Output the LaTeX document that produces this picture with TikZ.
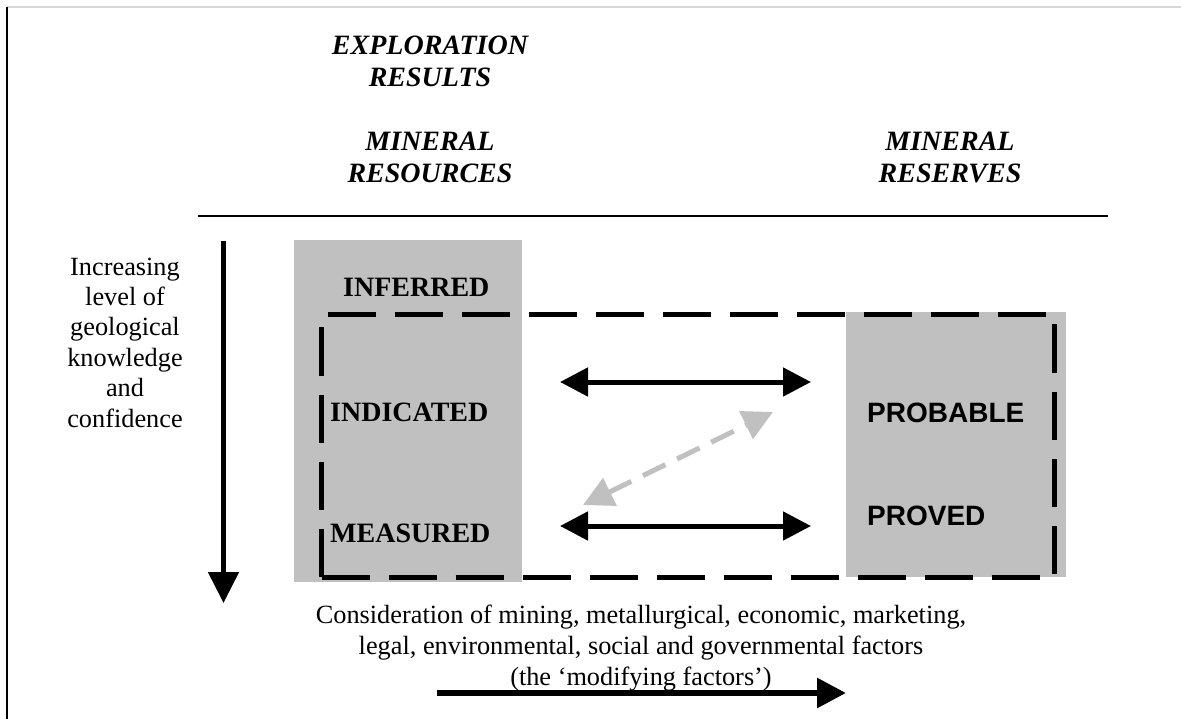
\documentclass[tikz,border=0pt]{standalone}
\usepackage{fontspec}
\setmainfont{Liberation Serif}
\newfontfamily\arialfont{Liberation Sans}
\usetikzlibrary{arrows.meta}
\definecolor{boxgray}{HTML}{C0C0C0}
\definecolor{rulegray}{HTML}{D6D6D6}

\begin{document}
\begin{tikzpicture}[x=1pt,y=-1pt,
  heading/.style={font=\fontsize{28}{32.5}\selectfont\bfseries\itshape, align=center, inner sep=0pt, anchor=base},
  bodytext/.style={font=\fontsize{26.3}{30.5}\selectfont, align=center, inner sep=0pt, anchor=base},
  reslabel/.style={font=\fontsize{28}{30}\selectfont\bfseries, inner sep=0pt, anchor=base west},
  reslabelsans/.style={font=\fontsize{28}{30}\selectfont\arialfont\bfseries, inner sep=0pt, anchor=base west},
  graybox/.style={fill=boxgray, draw=none, inner sep=0pt, anchor=north west},
  frame/.style={draw=black, line width=5pt, dash pattern=on 48pt off 19pt, inner sep=0pt, anchor=north west},
  twoway/.style={line width=5pt, {Triangle[length=28pt,width=28pt]}-{Triangle[length=28pt,width=28pt]}},
  crossway/.style={draw=boxgray, line width=5pt, dash pattern=on 25pt off 13pt,
    {Triangle[length=30pt,width=30pt]}-{Triangle[length=30pt,width=30pt]}},
  oneway/.style={line width=5pt, -{Triangle[length=31pt,width=30pt]}}
]
\useasboundingbox (0,0) rectangle (1181,719);

% page edges
\coordinate (edgeTL) at (6.5,7);
\coordinate (edgeTR) at (1181,7);
\coordinate (edgeBL) at (6.5,719);
\draw[rulegray, line width=1.5pt] (edgeTL) -- (edgeTR);
\draw[black, line width=2pt] (edgeTL) -- (edgeBL);

% column headings (a multi-line node sits on the baseline of its last line)
\node[heading] (explore) at (430,87) {EXPLORATION\\RESULTS};
\node[heading] (resources) at (430,183) {MINERAL\\RESOURCES};
\node[heading] (reserves) at (950,183) {MINERAL\\RESERVES};

% rule under the headings
\coordinate (ruleL) at (198,216);
\coordinate (ruleR) at (1108,216);
\draw[line width=2pt] (ruleL) -- (ruleR);

% shaded resource and reserve columns
\node[graybox, minimum width=228pt, minimum height=342pt] (resbox) at (294,240) {};
\node[graybox, minimum width=220pt, minimum height=265pt] (rsvbox) at (846,312) {};

% dashed outline round the convertible categories
\node[frame, minimum width=733pt, minimum height=263pt] (outline) at (319,312) {};

% category labels
\node[reslabel] (inferred) at (343,297) {INFERRED};
\node[reslabel] (indicated) at (330,421) {INDICATED};
\node[reslabel] (measured) at (330,542) {MEASURED};
\node[reslabelsans] (probable) at (867,422) {PROBABLE};
\node[reslabelsans] (proved) at (867,525) {PROVED};

% links between resources and reserves
\coordinate (indR) at (560,382);
\coordinate (probL) at (811,382);
\coordinate (measR) at (560,526);
\coordinate (provL) at (811,526);
\coordinate (crossLow) at (583,505);
\coordinate (crossHigh) at (773,412);
\draw[twoway] (indR) -- (probL);
\draw[twoway] (measR) -- (provL);
\draw[crossway] (crossLow) -- (crossHigh);

% knowledge axis
\coordinate (knowTop) at (223.5,241);
\coordinate (knowBot) at (223.5,603);
\draw[oneway] (knowTop) -- (knowBot);
\node[bodytext, font=\fontsize{26.3}{30.4}\selectfont] (knowledge) at (125,427) {Increasing\\level of\\geological\\knowledge\\and\\confidence};

% modifying factors axis
\node[bodytext, font=\fontsize{26.3}{31}\selectfont] (factors) at (641,685) {Consideration of mining, metallurgical, economic, marketing,\\legal, environmental, social and governmental factors\\(the ‘modifying factors’)};
\coordinate (modL) at (437,693);
\coordinate (modR) at (846,693);
\draw[line width=6pt, -{Triangle[length=29pt,width=29pt]}] (modL) -- (modR);
\end{tikzpicture}
\end{document}
